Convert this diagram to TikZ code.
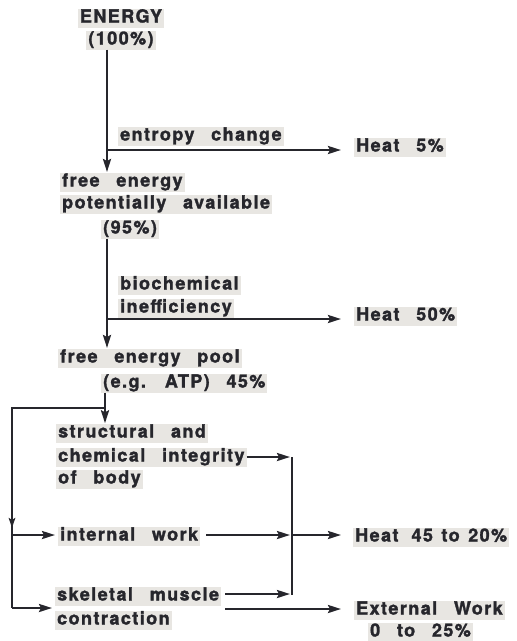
\documentclass[tikz,border=0pt]{standalone}
\usepackage{fontspec}
\setmainfont{TeX Gyre Heros}[LetterSpace=8, WordSpace=2.6, BoldFeatures={FakeBold=1.6}]
\usetikzlibrary{arrows.meta,calc}
\definecolor{ink}{HTML}{26262C}
\definecolor{paper}{HTML}{E8E6E2}
\tikzset{
  lbl/.style={anchor=west, font=\fontsize{18}{22}\selectfont\bfseries, text=ink, fill=paper,
     inner xsep=2pt, inner ysep=1.5pt, text height=12.5pt, text depth=3.5pt},
  flow/.style={draw=ink, line width=2.4pt, -{Stealth[length=13pt,width=8pt,inset=2pt]}},
  wire/.style={draw=ink, line width=2.4pt},
}
\begin{document}
\begin{tikzpicture}[x=1pt,y=-1pt]
\useasboundingbox (0,0) rectangle (517,641);
% nodes
\node[lbl, anchor=center] (energy1) at (121,18) {ENERGY};
\node[lbl, anchor=center] (energy2) at (121,40) {(100\%)};
\node[lbl] (entropy) at (118,136) {entropy change};
\node[lbl] (heat1) at (354,147) {Heat 5\%};
\node[lbl] (fe1) at (60,182) {free energy};
\node[lbl] (fe2) at (60,204) {potentially available};
\node[lbl] (fe3) at (101,229) {(95\%)};
\node[lbl] (bio1) at (118,285) {biochemical};
\node[lbl] (bio2) at (118,308) {inefficiency};
\node[lbl] (heat2) at (354,316) {Heat 50\%};
\node[lbl] (pool1) at (58,358) {free energy pool};
\node[lbl] (pool2) at (101,383) {(e.g. ATP) 45\%};
\node[lbl] (st1) at (56,433) {structural and};
\node[lbl] (st2) at (56,457) {chemical integrity};
\node[lbl] (st3) at (56,479) {of body};
\node[lbl] (iw) at (58,536) {internal work};
\node[lbl] (heat3) at (353,537) {Heat\hspace{13pt}45\hspace{8.5pt}to\hspace{8.5pt}20\%};
\node[lbl] (sk1) at (55,596) {skeletal muscle};
\node[lbl] (sk2) at (55,620) {contraction};
\node[lbl] (ext1) at (354,610) {External Work};
\node[lbl] (ext2) at (368,632) {0 to 25\%};
% guide coordinates
\coordinate (spine) at (107,0);
\coordinate (spineb) at (105,0);
% main spine
\draw[flow] (spine |- energy2.south) -- (107,172);
\draw[flow] (107,150) -- (341,150);
\draw[flow] (spine |- fe3.south) -- (107,348);
\draw[flow] (107,319) -- (341,319);
\draw[flow] (spineb |- pool2.south) -- (spineb |- st1.north);
% left distribution
\draw[wire] (105,408) -- (12,408) -- (12,608);
\draw[draw=ink, line width=2.4pt, -{Stealth[length=10pt,width=6.5pt,inset=2pt]}] (12,500) -- (12,528);
\draw[flow] (12,535) -- ([xshift=-3pt]iw.west |- 0,535);
\draw[flow] (12,608) -- ([xshift=-3pt]sk1.west |- 0,608);
% right collector
\draw[flow] (st2.east |- 0,457) -- (290,457);
\draw[wire] (292,457) -- (292,595);
\draw[flow] ([xshift=6pt]iw.east |- 0,535) -- (290,535);
\draw[flow] (292,535) -- (341,535);
\draw[flow] ([xshift=4pt]sk1.east |- 0,594) -- (290,594);
\draw[flow] ([xshift=4pt]sk1.east |- 0,609) -- (341,609);
\end{tikzpicture}
\end{document}
